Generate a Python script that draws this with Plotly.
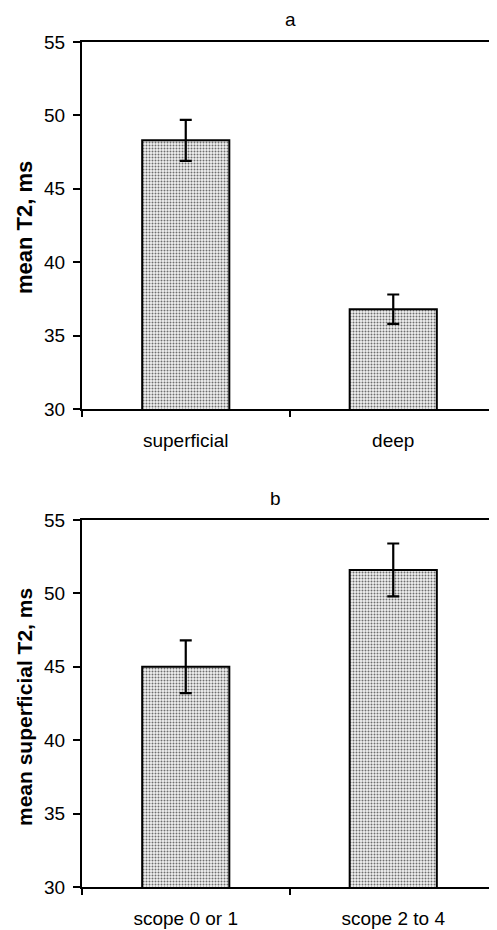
import plotly.graph_objects as go

# ---- data ----
categories_a = ["superficial", "deep"]
mean_t2_a = [48.3, 36.8]
err_t2_a = [1.4, 1.0]

categories_b = ["scope 0 or 1", "scope 2 to 4"]
mean_t2_b = [45.0, 51.6]
err_t2_b = [1.8, 1.8]

y_ticks = [30, 35, 40, 45, 50, 55]
panel_titles = ["a", "b"]
y_titles = ["mean T2, ms", "mean superficial T2, ms"]

FONT = "Liberation Sans, Arial, sans-serif"
OFF = 8                      # browser body margin
W, H = 497 - OFF, 930 - OFF  # figure size so that page fits the window
L = 82 - OFF                 # left edge of plot area (page x = 82)

bar_style = dict(
    marker=dict(
        color="#e6e6e6",
        line=dict(color="black", width=2),
        pattern=dict(shape=".", fgcolor="#6e6e6e", bgcolor="#f2f2f2", size=3, solidity=0.35),
    ),
    showlegend=False,
)

fig = go.Figure()
fig.add_trace(go.Bar(
    x=categories_a, y=mean_t2_a, xaxis="x", yaxis="y",
    error_y=dict(type="data", array=err_t2_a, color="black", thickness=2.2, width=6),
    **bar_style,
))
fig.add_trace(go.Bar(
    x=categories_b, y=mean_t2_b, xaxis="x2", yaxis="y2",
    error_y=dict(type="data", array=err_t2_b, color="black", thickness=2.2, width=6),
    **bar_style,
))

def py(p):
    # page y pixel -> paper fraction
    return (H - (p - OFF)) / H

def px(p):
    # page x pixel -> paper fraction (relative to plot area)
    return (p - OFF - L) / (W - L)

xax = dict(
    showline=True, linecolor="black", linewidth=2, mirror=True,
    ticks="outside", ticklen=6, tickwidth=2, tickcolor="black",
    tickson="boundaries", showgrid=False, zeroline=False,
    tickfont=dict(family=FONT, size=19, color="black"),
    ticklabelstandoff=13, automargin=False, fixedrange=True,
)
yax = dict(
    range=[30, 55], tickvals=y_ticks, showline=True, linecolor="black", linewidth=2,
    ticks="outside", ticklen=7, tickwidth=2, tickcolor="black",
    showgrid=False, zeroline=False,
    tickfont=dict(family=FONT, size=19, color="black"),
    ticklabelstandoff=4, automargin=False, fixedrange=True,
)

fig.update_layout(
    width=W, height=H,
    margin=dict(l=L, r=0, t=0, b=0, autoexpand=False),
    paper_bgcolor="white", plot_bgcolor="white",
    template="none",
    bargap=0.58,
    xaxis=dict(domain=[0, 1], anchor="y", **xax),
    yaxis=dict(domain=[py(409), py(42)], anchor="x", **yax),
    xaxis2=dict(domain=[0, 1], anchor="y2", **xax),
    yaxis2=dict(domain=[py(887), py(520)], anchor="x2", **yax),
    annotations=[
        dict(text=panel_titles[0], x=px(290), y=py(20), xref="paper", yref="paper",
             showarrow=False, xanchor="center", yanchor="middle",
             font=dict(family=FONT, size=19, color="black")),
        dict(text=panel_titles[1], x=px(275), y=py(498), xref="paper", yref="paper",
             showarrow=False, xanchor="center", yanchor="middle",
             font=dict(family=FONT, size=19, color="black")),
        dict(text="<b>" + y_titles[0] + "</b>", x=px(24), y=py(227), xref="paper", yref="paper",
             showarrow=False, xanchor="center", yanchor="middle", textangle=-90,
             font=dict(family=FONT, size=22, color="black")),
        dict(text="<b>" + y_titles[1] + "</b>", x=px(24), y=py(707), xref="paper", yref="paper",
             showarrow=False, xanchor="center", yanchor="middle", textangle=-90,
             font=dict(family=FONT, size=21, color="black")),
    ],
)

fig.write_html("out.html", config={"displayModeBar": False})
